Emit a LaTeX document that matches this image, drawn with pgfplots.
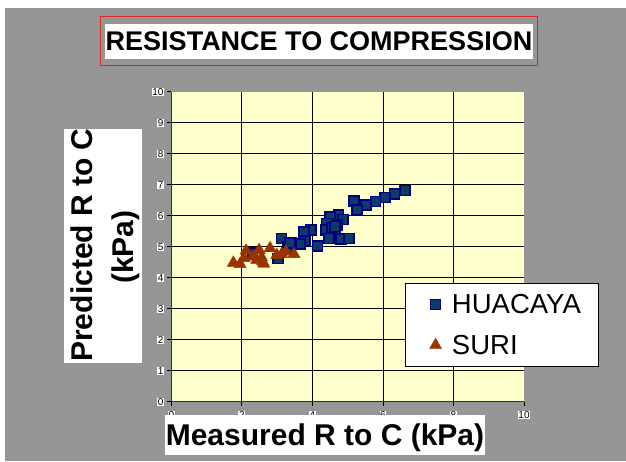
\documentclass[border=0pt]{standalone}
\usepackage{pgfplots}
\pgfplotsset{compat=1.18}
\usepackage{fontspec}
\setmainfont{Liberation Sans}
\definecolor{bggray}{HTML}{969696}
\definecolor{plotyellow}{HTML}{FFFFCC}
\definecolor{hfill}{HTML}{0B3B66}
\definecolor{hedge}{HTML}{000080}
\definecolor{sfill}{HTML}{993300}
\definecolor{titlered}{HTML}{E02828}
\begin{document}
\begin{tikzpicture}[x=1pt,y=1pt]
\useasboundingbox (0,0) rectangle (626,461);
\fill[white] (0,0) rectangle (626,461);
\fill[bggray] (5,0) rectangle (626,453);
\begin{axis}[at={(171.3pt,59.3pt)}, anchor=south west, scale only axis,
  width=352.7pt, height=310pt,
  xmin=0, xmax=10, ymin=0, ymax=10,
  xtick={0,2,...,10}, ytick={0,1,...,10},
  minor xtick={2,4,6,8}, minor ytick={1,...,9},
  grid=minor, minor grid style={black, line width=0.8pt},
  minor tick length=0pt,
  axis lines*=left, axis line style={black!80, line width=1.2pt, -},
  tick align=outside, major tick length=4pt, major tick style={black, line width=0.8pt},
  axis background/.style={fill=plotyellow},
  ticklabel style={fill=white, inner sep=0.6pt, font=\fontsize{10}{12}\selectfont},
  xticklabel style={yshift=-5pt},
  yticklabel style={xshift=-3pt},
  /pgf/number format/assume math mode=true,
  legend style={at={(0.662,0.112)}, anchor=south west, draw=black, line width=0.8pt,
    fill=white, font=\fontsize{27.5}{32}\selectfont, inner xsep=16pt, inner ysep=9pt,
    row sep=16pt},
  legend image code/.code={\path (-14pt,0pt) (14pt,0pt);
    \draw[mark repeat=2,mark phase=2,#1] plot coordinates {(-1pt,0pt)(0pt,0pt)(1pt,0pt)};},
  legend cell align=left,
]
\addplot[only marks, mark=square*, mark size=5pt,
  mark options={fill=hfill, draw=hedge, line width=1.6pt}] coordinates {
(6.63,6.81)(6.33,6.70)(6.06,6.59)(5.79,6.46)(5.52,6.34)(5.18,6.48)(5.27,6.18)
(4.74,6.03)(4.87,5.88)(4.50,5.95)(4.40,5.75)(4.69,5.70)(4.64,5.48)(4.38,5.54)
(4.55,5.62)(4.64,5.65)(4.47,5.27)(4.81,5.24)(5.04,5.26)(4.14,5.03)(3.96,5.54)
(3.77,5.48)(3.79,5.18)(3.65,5.08)(3.41,5.13)(3.13,5.27)(3.31,5.00)(3.36,5.11)
(3.03,4.62)(2.30,4.80)
};
\addplot[only marks, mark=triangle*, mark size=7pt,
  mark options={fill=sfill, draw=sfill, line width=0.4pt}] coordinates {
(1.76,4.48)(1.95,4.44)(2.12,4.87)(2.06,4.63)(2.32,4.68)(2.49,4.89)(2.59,4.52)
(2.56,4.66)(2.80,4.95)(2.99,4.73)(3.13,4.76)(3.25,4.84)(3.48,4.76)(2.42,4.57)
(2.62,4.45)
};
\legend{HUACAYA, SURI}
\end{axis}
% title
\draw[titlered, line width=1pt] (100,395) rectangle (537,444);
\fill[white] (105,402) rectangle (533,437);
\node[anchor=base, inner sep=0pt, font=\bfseries\fontsize{27}{32}\selectfont] at (319,410) {RESISTANCE TO COMPRESSION};
% x label
\fill[white] (165,6) rectangle (485,46);
\node[anchor=base, inner sep=0pt, font=\bfseries\fontsize{30}{36}\selectfont] at (325,16) {Measured R to C (kPa)};
% y label
\fill[white] (64,98) rectangle (142,332);
\node[anchor=base, rotate=90, inner sep=0pt, font=\bfseries\fontsize{30}{36}\selectfont] at (92.7,216) {Predicted R to C};
\node[anchor=base, rotate=90, inner sep=0pt, font=\bfseries\fontsize{30}{36}\selectfont] at (133.3,214) {(kPa)};
\end{tikzpicture}
\end{document}
